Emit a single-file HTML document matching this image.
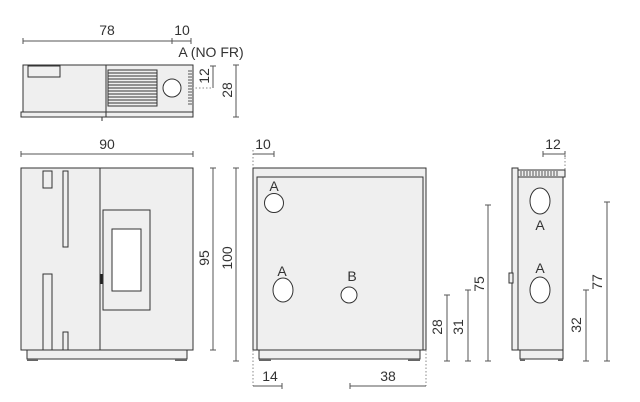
<!DOCTYPE html>
<html><head><meta charset="utf-8"><style>
html,body{margin:0;padding:0;background:#fff;width:640px;height:402px;overflow:hidden}
svg{display:block}
text{font-family:"Liberation Sans",sans-serif;font-size:14px;fill:#333;text-anchor:middle}
.b{fill:#efefef;stroke:#333;stroke-width:1}
.n{fill:none;stroke:#333;stroke-width:1}
.w{fill:#fff;stroke:#333;stroke-width:1}
.d{stroke:#555;stroke-width:1;fill:none}
.t{stroke:#555;stroke-width:1}
.dot{stroke:#888;stroke-width:1;stroke-dasharray:1.5 2;fill:none}
</style></head><body>
<svg width="640" height="402" viewBox="0 0 640 402">
<!-- TOP VIEW -->
<line class="d" x1="23" y1="41" x2="191" y2="41"/>
<line class="t" x1="23" y1="38" x2="23" y2="44"/><line class="t" x1="172" y1="38" x2="172" y2="44"/><line class="t" x1="191" y1="38" x2="191" y2="44"/>
<text x="107" y="35">78</text><text x="182" y="35">10</text>
<text x="211" y="57">A (NO FR)</text>
<rect class="b" x="21" y="112" width="172" height="5"/>
<rect class="b" x="23" y="65" width="170" height="47"/>
<line class="n" x1="106" y1="65" x2="106" y2="117"/>
<line class="n" x1="102" y1="117" x2="102" y2="121"/>
<rect class="b" x="28" y="66" width="32" height="11"/>
<rect class="b" x="108" y="70" width="49" height="36"/>
<g class="n">
<line x1="108" y1="73" x2="157" y2="73"/><line x1="108" y1="76" x2="157" y2="76"/><line x1="108" y1="79" x2="157" y2="79"/><line x1="108" y1="82" x2="157" y2="82"/><line x1="108" y1="85" x2="157" y2="85"/><line x1="108" y1="88" x2="157" y2="88"/><line x1="108" y1="91" x2="157" y2="91"/><line x1="108" y1="94" x2="157" y2="94"/><line x1="108" y1="97" x2="157" y2="97"/><line x1="108" y1="100" x2="157" y2="100"/><line x1="108" y1="103" x2="157" y2="103"/>
</g>
<circle class="w" cx="172" cy="88" r="9"/>
<g class="t">
<line x1="188" y1="71" x2="192" y2="71"/><line x1="188" y1="74" x2="192" y2="74"/><line x1="188" y1="77" x2="192" y2="77"/><line x1="188" y1="80" x2="192" y2="80"/><line x1="188" y1="83" x2="192" y2="83"/><line x1="188" y1="86" x2="192" y2="86"/><line x1="188" y1="89" x2="192" y2="89"/><line x1="188" y1="92" x2="192" y2="92"/><line x1="188" y1="95" x2="192" y2="95"/><line x1="188" y1="98" x2="192" y2="98"/><line x1="188" y1="101" x2="192" y2="101"/><line x1="188" y1="104" x2="192" y2="104"/>
</g>
<line class="dot" x1="192" y1="88" x2="213" y2="88"/>
<line class="d" x1="213" y1="66" x2="213" y2="88"/><line class="t" x1="210" y1="66" x2="216" y2="66"/>
<text transform="translate(209,76) rotate(-90)">12</text>
<line class="d" x1="236" y1="65" x2="236" y2="117"/><line class="t" x1="233" y1="65" x2="239" y2="65"/><line class="t" x1="233" y1="117" x2="239" y2="117"/>
<text transform="translate(232,90) rotate(-90)">28</text>

<!-- FRONT VIEW -->
<line class="d" x1="21" y1="154" x2="193" y2="154"/>
<line class="t" x1="21" y1="151" x2="21" y2="157"/><line class="t" x1="193" y1="151" x2="193" y2="157"/>
<text x="107" y="149">90</text>
<rect class="b" x="27" y="350" width="160" height="9"/>
<rect x="27" y="359" width="11" height="2" fill="#666"/><rect x="175" y="359" width="12" height="2" fill="#666"/>
<rect class="b" x="21" y="168" width="172" height="182"/>
<line class="n" x1="100" y1="168" x2="100" y2="350"/>
<rect class="b" x="43" y="171" width="9" height="17"/>
<rect class="b" x="63" y="171" width="5" height="76"/>
<rect class="b" x="43" y="274" width="9" height="76"/>
<rect class="b" x="63" y="332" width="5" height="18"/>
<rect class="b" x="103" y="210" width="47" height="100"/>
<rect class="w" x="112" y="229" width="29" height="62"/>
<line x1="101.5" y1="274" x2="101.5" y2="284" stroke="#222" stroke-width="2"/>
<line class="d" x1="213" y1="168" x2="213" y2="350"/><line class="t" x1="210" y1="168" x2="216" y2="168"/><line class="t" x1="210" y1="350" x2="216" y2="350"/>
<text transform="translate(209,258) rotate(-90)">95</text>
<line class="d" x1="236" y1="168" x2="236" y2="361"/><line class="t" x1="233" y1="168" x2="239" y2="168"/><line class="t" x1="233" y1="361" x2="239" y2="361"/>
<text transform="translate(232,258) rotate(-90)">100</text>

<!-- BACK VIEW -->
<line class="dot" x1="253" y1="150" x2="253" y2="168"/>
<line class="d" x1="253" y1="154" x2="274" y2="154"/><line class="t" x1="274" y1="151" x2="274" y2="157"/>
<text x="263" y="149">10</text>
<rect class="b" x="259" y="350" width="161" height="9"/>
<rect x="259" y="359" width="12" height="2" fill="#666"/><rect x="408" y="359" width="12" height="2" fill="#666"/>
<rect class="b" x="253" y="168" width="173" height="182"/>
<rect class="b" x="257" y="177" width="166" height="173"/>
<text x="274" y="191">A</text>
<circle class="w" cx="274" cy="203" r="9.5"/>
<text x="282" y="276">A</text>
<ellipse class="w" cx="283" cy="290" rx="10" ry="12"/>
<text x="352" y="281">B</text>
<circle class="w" cx="349" cy="295" r="8"/>
<line class="dot" x1="253" y1="350" x2="253" y2="386"/><line class="dot" x1="426" y1="350" x2="426" y2="386"/>
<line class="d" x1="253" y1="386" x2="282" y2="386"/><line class="t" x1="282" y1="383" x2="282" y2="389"/>
<text x="270" y="381">14</text>
<line class="d" x1="350" y1="386" x2="426" y2="386"/><line class="t" x1="350" y1="383" x2="350" y2="389"/>
<text x="388" y="381">38</text>
<line class="d" x1="447" y1="295" x2="447" y2="361"/><line class="t" x1="444" y1="295" x2="450" y2="295"/><line class="t" x1="444" y1="361" x2="450" y2="361"/>
<text transform="translate(442,327) rotate(-90)">28</text>
<line class="d" x1="468" y1="290" x2="468" y2="361"/><line class="t" x1="465" y1="290" x2="471" y2="290"/><line class="t" x1="465" y1="361" x2="471" y2="361"/>
<text transform="translate(463,327) rotate(-90)">31</text>
<line class="d" x1="488" y1="205" x2="488" y2="361"/><line class="t" x1="485" y1="205" x2="491" y2="205"/><line class="t" x1="485" y1="361" x2="491" y2="361"/>
<text transform="translate(484,284) rotate(-90)">75</text>

<!-- SIDE VIEW -->
<line class="d" x1="543" y1="154" x2="565" y2="154"/><line class="t" x1="543" y1="151" x2="543" y2="157"/><line class="t" x1="565" y1="151" x2="565" y2="157"/>
<text x="553" y="149">12</text>
<line class="dot" x1="565" y1="154" x2="565" y2="170"/>
<rect class="b" x="520" y="350" width="43" height="9"/>
<rect x="520" y="359" width="5" height="2" fill="#666"/><rect x="558" y="359" width="5" height="2" fill="#666"/>
<rect class="b" x="512" y="168" width="6" height="182"/>
<rect class="b" x="518" y="173" width="45" height="177"/>
<rect class="b" x="518" y="170" width="47" height="7"/>
<g class="t">
<line x1="521" y1="171" x2="521" y2="176"/><line x1="524" y1="171" x2="524" y2="176"/><line x1="527" y1="171" x2="527" y2="176"/><line x1="530" y1="171" x2="530" y2="176"/><line x1="533" y1="171" x2="533" y2="176"/><line x1="536" y1="171" x2="536" y2="176"/><line x1="539" y1="171" x2="539" y2="176"/><line x1="542" y1="171" x2="542" y2="176"/><line x1="545" y1="171" x2="545" y2="176"/><line x1="548" y1="171" x2="548" y2="176"/><line x1="551" y1="171" x2="551" y2="176"/><line x1="554" y1="171" x2="554" y2="176"/><line x1="557" y1="171" x2="557" y2="176"/>
</g>
<rect class="b" x="509" y="273" width="4" height="10"/>
<ellipse class="w" cx="540" cy="201" rx="10" ry="13"/>
<text x="540" y="230">A</text>
<text x="540" y="273">A</text>
<ellipse class="w" cx="540" cy="290" rx="10" ry="13"/>
<line class="d" x1="586" y1="290" x2="586" y2="361"/><line class="t" x1="583" y1="290" x2="589" y2="290"/><line class="t" x1="583" y1="361" x2="589" y2="361"/>
<text transform="translate(581,325) rotate(-90)">32</text>
<line class="d" x1="607" y1="202" x2="607" y2="361"/><line class="t" x1="604" y1="202" x2="610" y2="202"/><line class="t" x1="604" y1="361" x2="610" y2="361"/>
<text transform="translate(602,282) rotate(-90)">77</text>
</svg>
</body></html>
